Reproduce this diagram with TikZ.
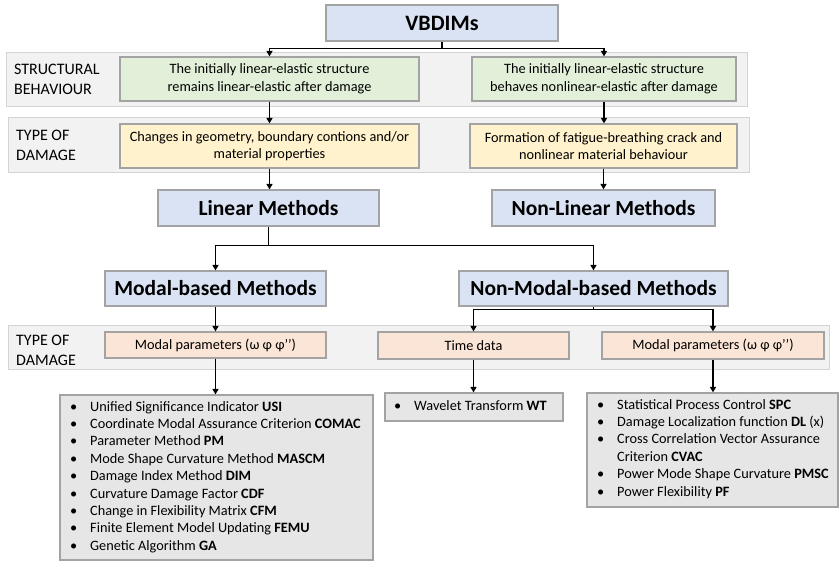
\documentclass[tikz,border=0pt]{standalone}
\usepackage{fontspec}
\setmainfont{Carlito}
\usetikzlibrary{arrows.meta}
\definecolor{cblue}{HTML}{DAE3F3}
\definecolor{cgreen}{HTML}{E2F0D9}
\definecolor{cyellow}{HTML}{FFF2CC}
\definecolor{corange}{HTML}{FBE5D6}
\definecolor{cband}{HTML}{F2F2F2}
\definecolor{cbandb}{HTML}{D4D4D4}
\definecolor{clist}{HTML}{E7E6E6}
\definecolor{cbord}{HTML}{A3A3A3}
\tikzset{
  box/.style={draw=cbord, line width=1.2pt, inner sep=0pt, align=center, font=\fontsize{14.3}{17.5}\selectfont},
  bandbox/.style={draw=cbandb, fill=cband, line width=1pt, inner sep=0pt},
  bandlabel/.style={anchor=west, align=left, inner sep=0pt, font=\fontsize{16}{20}\selectfont},
  greenbox/.style={box, fill=cgreen},
  yellowbox/.style={box, fill=cyellow},
  bluebox/.style={box, fill=cblue, font=\fontsize{21.5}{25}\selectfont\bfseries},
  parbox/.style={box, fill=corange},
  listbox/.style={draw=cbord, fill=clist, line width=1.2pt, inner sep=0pt},
  listtext/.style={anchor=north west, align=left, inner sep=0pt, font=\fontsize{14.3}{17.4}\selectfont},
  conn/.style={line width=1.5pt, -{Triangle[width=6pt,length=5.5pt]}},
  plain/.style={line width=1.5pt},
}
\newcommand{\itm}[1]{\makebox[20pt][l]{•}#1}
\begin{document}
\begin{tikzpicture}[x=1pt,y=-1pt]
\useasboundingbox (0,0) rectangle (839,561);
% bands
\node[bandbox, minimum width=741pt, minimum height=54pt] (band1) at (376.5,80) {};
\node[bandbox, minimum width=741pt, minimum height=55pt] (band2) at (378.5,145.5) {};
\node[bandbox, minimum width=821pt, minimum height=44pt] (band3) at (418.5,348) {};
\node[bandlabel] (lab1) at (14,79.5) {STRUCTURAL\\BEHAVIOUR};
\node[bandlabel] (lab2) at (16,145.5) {TYPE OF\\DAMAGE};
\node[bandlabel] (lab3) at (16,350.5) {TYPE OF\\DAMAGE};
% top
\node[bluebox, minimum width=232pt, minimum height=36pt, font=\fontsize{22}{26}\selectfont\bfseries] (vb) at (442,23) {VBDIMs};
\node[greenbox, minimum width=299pt, minimum height=44pt] (g1) at (269.5,79) {The initially linear-elastic structure\\remains linear-elastic after damage};
\node[greenbox, minimum width=264pt, minimum height=44pt] (g2) at (604,79) {The initially linear-elastic structure\\behaves nonlinear-elastic after damage};
\node[yellowbox, minimum width=299pt, minimum height=44pt] (y1) at (269.5,146) {Changes in geometry, boundary contions and/or\\material properties};
\node[yellowbox, minimum width=267pt, minimum height=44pt] (y2) at (603.5,146) {Formation of fatigue-breathing crack and\\nonlinear material behaviour};
\node[bluebox, minimum width=221pt, minimum height=36pt] (lin) at (268.5,208) {Linear Methods};
\node[bluebox, minimum width=223pt, minimum height=36pt] (nlin) at (603.5,208) {Non-Linear Methods};
\node[bluebox, minimum width=221pt, minimum height=35pt] (mod) at (215.5,288.5) {Modal-based Methods};
\node[bluebox, minimum width=269pt, minimum height=35pt] (nmod) at (593.5,288.5) {Non-Modal-based Methods};
\node[parbox, minimum width=221pt, minimum height=26pt] (p1) at (215.5,345) {Modal parameters (ω φ φ’’)};
\node[parbox, minimum width=191pt, minimum height=27pt] (p2) at (473.5,345.5) {Time data};
\node[parbox, minimum width=222pt, minimum height=27pt] (p3) at (713,345.5) {Modal parameters (ω φ φ’’)};
% lists
\node[listbox, minimum width=313pt, minimum height=165pt] (l1) at (216.5,477.5) {};
\node[listbox, minimum width=178pt, minimum height=28pt] (l2) at (474,407) {};
\node[listbox, minimum width=251pt, minimum height=114pt] (l3) at (712.5,450) {};
\node[listtext] (t1) at (70,401) {\itm{Unified Significance Indicator \textbf{USI}}\\
\itm{Coordinate Modal Assurance Criterion \textbf{COMAC}}\\
\itm{Parameter Method \textbf{PM}}\\
\itm{Mode Shape Curvature Method \textbf{MASCM}}\\
\itm{Damage Index Method \textbf{DIM}}\\
\itm{Curvature Damage Factor \textbf{CDF}}\\
\itm{Change in Flexibility Matrix \textbf{CFM}}\\
\itm{Finite Element Model Updating \textbf{FEMU}}\\
\itm{Genetic Algorithm \textbf{GA}}};
\node[listtext] (t2) at (394,400) {\itm{Wavelet Transform \textbf{WT}}};
\node[listtext] (t3) at (597,399) {\itm{Statistical Process Control \textbf{SPC}}\\
\itm{Damage Localization function \textbf{DL} (x)}\\
\itm{Cross Correlation Vector Assurance}\\
\hspace*{20pt}Criterion \textbf{CVAC}\\
\itm{Power Mode Shape Curvature \textbf{PMSC}}\\
\itm{Power Flexibility \textbf{PF}}};
% connectors
\draw[plain] (vb.south) -- ++(0,7) coordinate (vbj);
\draw[conn] (vbj) -| (g1.north);
\draw[conn] (vbj) -| (g2.north);
\draw[conn] (g1.south) -- (y1.north);
\draw[conn] (g2.south) -- (g2.south |- y2.north);
\draw[conn] (y1.south) -- (y1.south |- lin.north);
\draw[conn] (y2.south) -- (y2.south |- nlin.north);
\draw[plain] (lin.south) -- ++(0,19) coordinate (lj);
\draw[conn] (lj) -| (mod.north);
\draw[conn] (lj) -| (nmod.north);
\draw[conn] (mod.south) -- (p1.north);
\draw[plain] (nmod.south) -- ++(0,3) coordinate (nj);
\draw[conn] (nj) -| (p2.north);
\draw[conn] (nj) -| (p3.north);
\draw[conn] (p1.south) -- (p1.south |- l1.north);
\draw[conn] (p2.south) -- (p2.south |- l2.north);
\draw[conn] (p3.south) -- (p3.south |- l3.north);
\end{tikzpicture}
\end{document}
